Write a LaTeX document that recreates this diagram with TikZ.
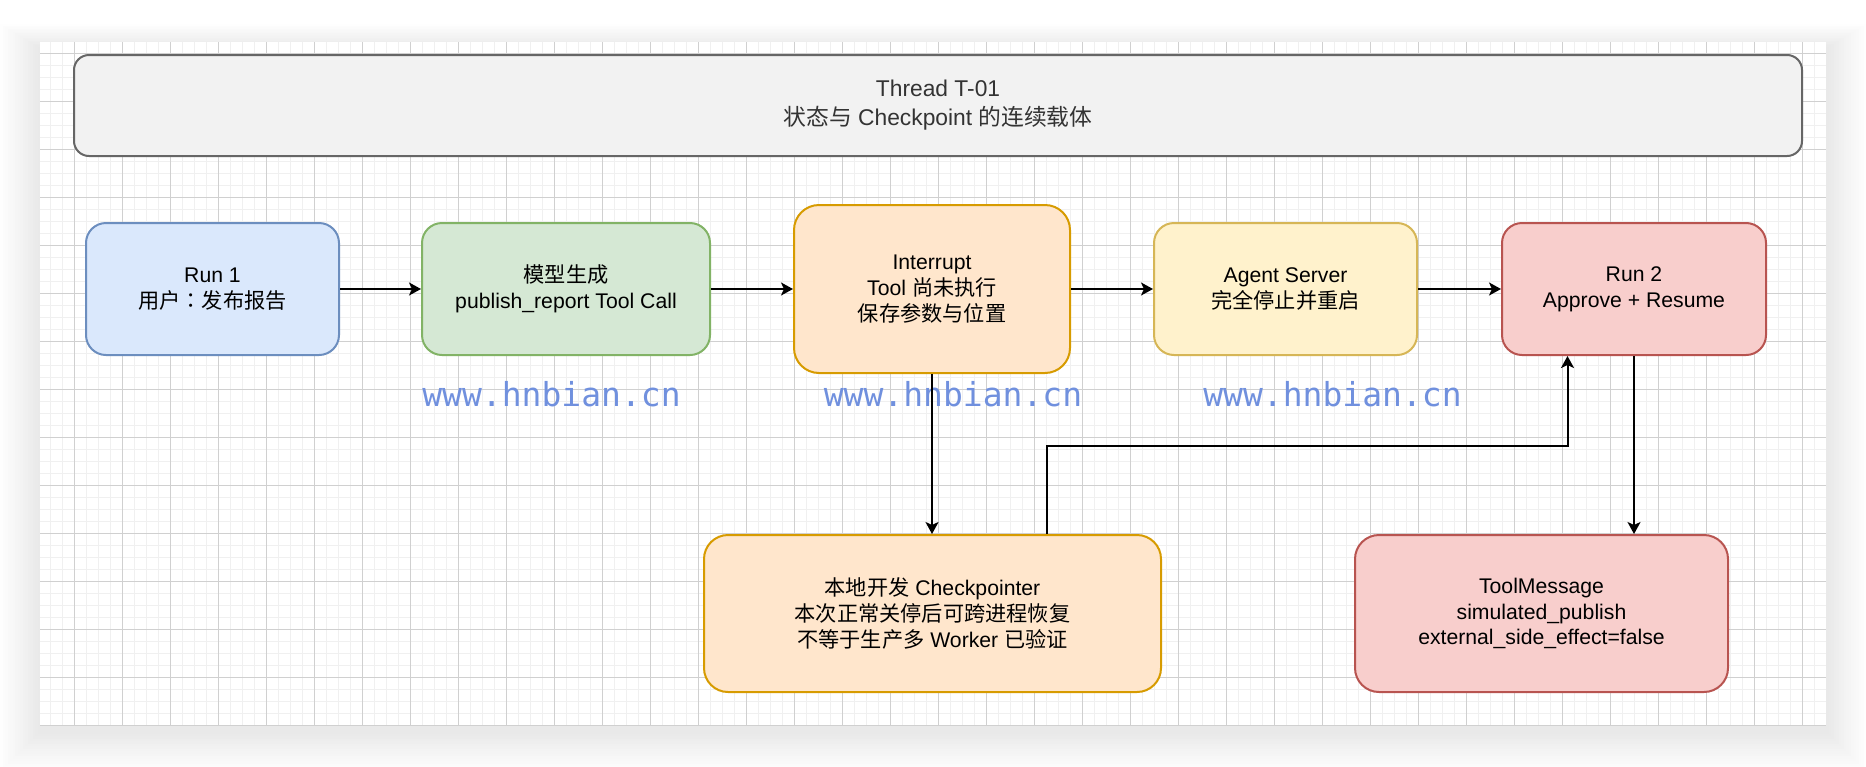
\documentclass[tikz,border=0pt]{standalone}
\usepackage{fontspec}
\setmainfont{Liberation Sans}
\newfontfamily\cjk{Noto Sans CJK SC}
\newfontfamily\cjktc{Noto Sans CJK TC}
\newfontfamily\wmfont{DejaVu Sans Mono}
\usetikzlibrary{arrows.meta,calc}
\definecolor{threadfill}{HTML}{F2F2F2}
\definecolor{threadline}{HTML}{666666}
\definecolor{threadtext}{HTML}{333333}
\definecolor{bluefill}{HTML}{DAE8FC}
\definecolor{blueline}{HTML}{6C8EBF}
\definecolor{greenfill}{HTML}{D5E8D4}
\definecolor{greenline}{HTML}{82B366}
\definecolor{orangefill}{HTML}{FFE6CC}
\definecolor{orangeline}{HTML}{D79B00}
\definecolor{yellowfill}{HTML}{FFF2CC}
\definecolor{yellowline}{HTML}{D6B656}
\definecolor{redfill}{HTML}{F8CECC}
\definecolor{redline}{HTML}{B85450}
\definecolor{gridminor}{HTML}{F0F0F0}
\definecolor{gridmajor}{HTML}{D0D0D0}
\definecolor{wmblue}{HTML}{7090DE}
\begin{document}
\begin{tikzpicture}[x=0.5pt,y=-0.5pt,
    box/.style={draw, line width=1pt, align=center, text=black,
        font=\fontsize{10.6pt}{12.8pt}\selectfont},
    flow/.style={-{Stealth[length=6pt,width=6.5pt,inset=1.5pt]}, line width=1pt},
    minorln/.style={draw=gridminor, line width=0.5pt},
    majorln/.style={draw=gridmajor, line width=0.5pt},
    wmtext/.style={text=wmblue, font=\wmfont\fontsize{16.5pt}{18pt}\selectfont, inner sep=0pt}]
    \useasboundingbox (0,0) rectangle (1866,766);
    \fill[white] (0,0) rectangle (1866,766);
    \foreach \s in {16,...,1} {
        \pgfmathsetmacro\shade{0.55*(17-\s)}
        \fill[black!\shade] ({40-2.5*\s},{42-1.5*\s+6}) rectangle ({1826+2.5*\s},{725+2.5*\s+6});
    }
    \fill[white] (40,42) rectangle (1826,725);
    \begin{scope}
        \clip (40,42) rectangle (1826,725);
        \foreach \gx in {50,62,...,1826} \draw[minorln] (\gx,42) -- (\gx,725);
        \foreach \gy in {53,65,...,725} \draw[minorln] (40,\gy) -- (1826,\gy);
        \foreach \gx in {74,122,...,1802} \draw[majorln] (\gx,42) -- (\gx,725);
        \foreach \gy in {53,101,...,725} \draw[majorln] (40,\gy) -- (1826,\gy);
    \end{scope}

    \node[box, fill=threadfill, draw=threadline, text=threadtext, minimum width=864pt, minimum height=50.5pt,
        rounded corners=7.5pt, font=\fontsize{11.4pt}{14.6pt}\selectfont]
        (thread) at (938,105.5) {Thread T-01\\{\cjk 状态与} Checkpoint {\cjk 的连续载体}};

    \node[box, fill=bluefill, draw=blueline, minimum width=126.5pt, minimum height=66pt, rounded corners=10pt]
        (run1) at (212.5,289) {Run 1\\{\cjk 用户}{\cjktc ：}{\cjk 发布报告}};
    \node[box, fill=greenfill, draw=greenline, minimum width=144pt, minimum height=66pt, rounded corners=10pt]
        (model) at (566,289) {{\cjk 模型生成}\\publish\_report Tool Call};
    \node[box, fill=orangefill, draw=orangeline, minimum width=138pt, minimum height=84pt, rounded corners=12.5pt]
        (intr) at (932,289) {Interrupt\\Tool {\cjk 尚未执行}\\{\cjk 保存参数与位置}};
    \node[box, fill=yellowfill, draw=yellowline, minimum width=131.5pt, minimum height=66pt, rounded corners=10pt]
        (agent) at (1285.5,289) {Agent Server\\{\cjk 完全停止并重启}};
    \node[box, fill=redfill, draw=redline, minimum width=132pt, minimum height=66pt, rounded corners=10pt]
        (run2) at (1634,289) {Run 2\\Approve + Resume};
    \node[box, fill=orangefill, draw=orangeline, minimum width=228.5pt, minimum height=78.5pt, rounded corners=12pt]
        (ckpt) at (932.5,613.5) {{\cjk 本地开发} Checkpointer\\{\cjk 本次正常关停后可跨进程恢复}\\{\cjk 不等于生产多} Worker {\cjk 已验证}};
    \node[box, fill=redfill, draw=redline, minimum width=186.5pt, minimum height=78.5pt, rounded corners=12pt]
        (tool) at (1541.5,613.5) {ToolMessage\\simulated\_publish\\external\_side\_effect=false};

    \node[wmtext, anchor=base] (wm1) at (551.5,406) {www.hnbian.cn};
    \node[wmtext, anchor=base] (wm2) at (953,406) {www.hnbian.cn};
    \node[wmtext, anchor=base] (wm3) at (1332.5,406) {www.hnbian.cn};

    \coordinate (ckout) at ($(ckpt.north west)!0.75!(ckpt.north east)$);
    \coordinate (r2in) at ($(run2.south west)!0.25!(run2.south east)$);

    \draw[flow] (run1.east) -- (model.west);
    \draw[flow] (model.east) -- (intr.west);
    \draw[flow] (intr.east) -- (agent.west);
    \draw[flow] (agent.east) -- (run2.west);
    \draw[flow] (intr.south) -- (intr.south |- ckpt.north);
    \draw[flow] (ckout) |- (r2in |- 0,446) -- (r2in);
    \draw[flow] (run2.south) -- (run2.south |- tool.north);
\end{tikzpicture}
\end{document}
